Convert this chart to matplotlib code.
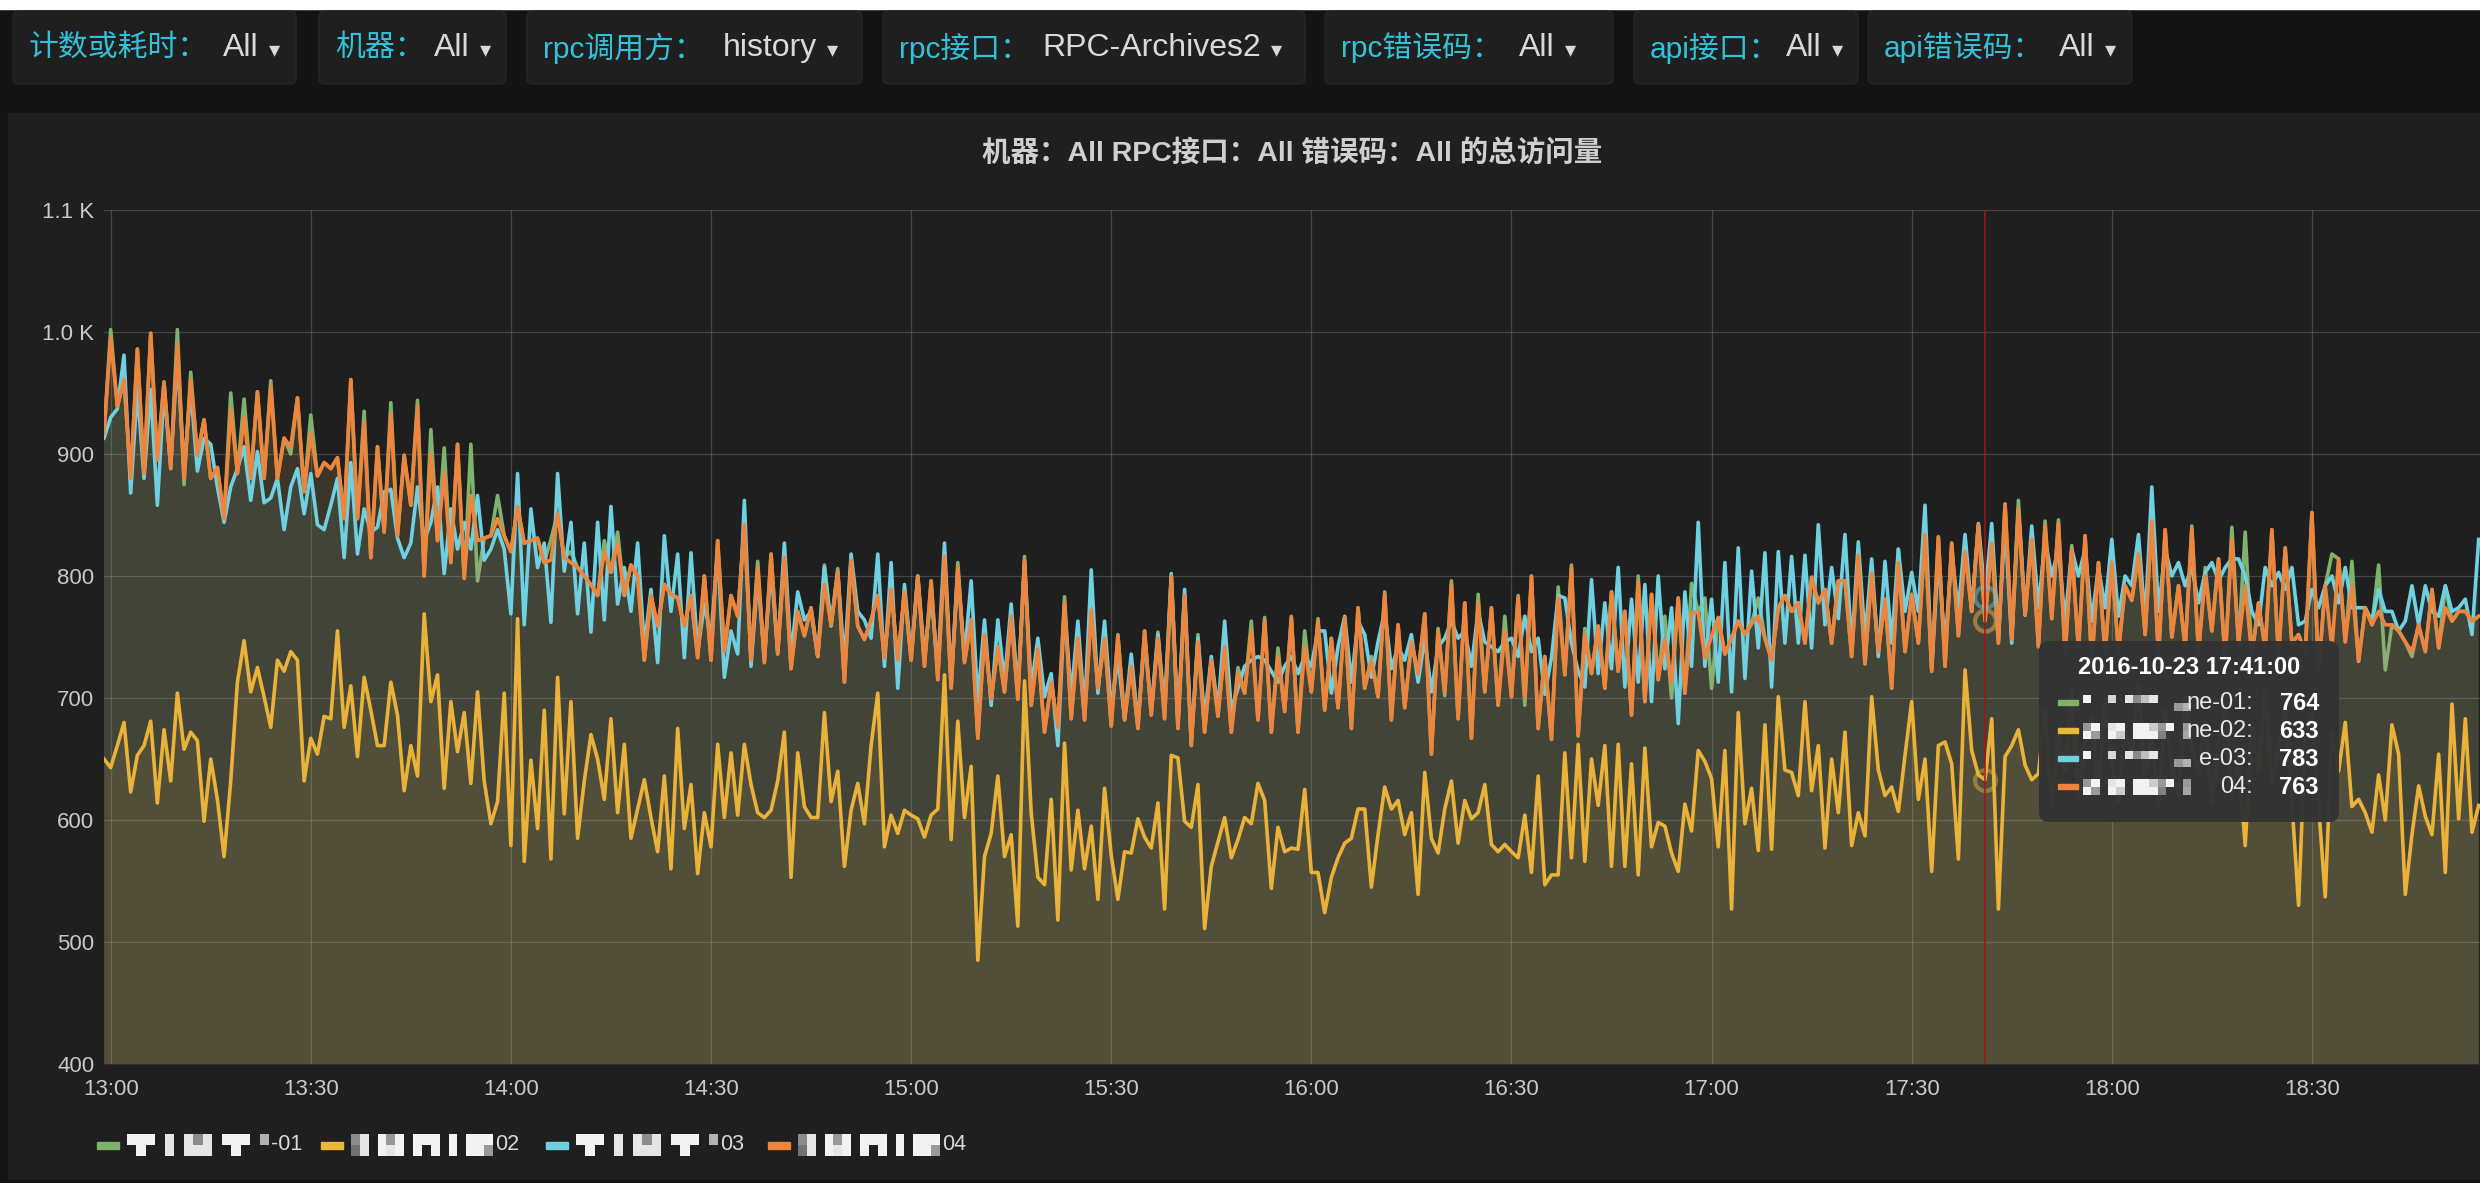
import matplotlib
matplotlib.use("Agg")
import matplotlib.pyplot as plt
import matplotlib.dates as mdates
from matplotlib.patches import FancyBboxPatch, Rectangle
from matplotlib.ticker import FuncFormatter
import numpy as np
import pandas as pd

FONTS = ["Liberation Sans", "Noto Sans CJK SC", "DejaVu Sans"]
plt.rcParams["font.family"] = FONTS

W, H = 2480, 1183

# one value per minute, starting 12:59
START = "2016-10-23 12:59"
HOVER = "2016-10-23 17:41:00"

host01 = [
    917, 1002, 939, 961, 880, 986, 884, 999, 895, 959, 888, 1002, 875, 967, 899, 928, 880, 889, 847, 950,
    884, 945, 880, 951, 880, 960, 880, 913, 900, 946, 869, 932, 882, 893, 888, 897, 847, 961, 847, 935,
    815, 906, 836, 942, 833, 899, 858, 944, 800, 920, 829, 905, 811, 908, 798, 908, 796, 831, 833, 866,
    833, 820, 857, 827, 829, 831, 811, 830, 851, 815, 820, 807,
    800, 793, 784, 829, 803, 836, 784, 809, 800, 731, 784, 759, 793, 785, 782, 759, 784, 733, 800, 731,
    829, 738, 784, 767, 842, 731, 812, 729, 818, 736, 815, 724, 771, 751, 774, 734, 809, 760, 806, 713,
    813, 759, 748, 764, 784, 733, 789, 731, 787, 731, 800, 726, 796, 715, 816, 708, 811, 729, 764, 667,
    752, 699, 742, 705, 767, 699, 816, 694, 740, 672, 713, 676,
    783, 683, 749, 682, 772, 708, 749, 677, 752, 682, 726, 675, 755, 686, 754, 683, 800, 675, 784, 661,
    752, 672, 731, 685, 742, 672, 725, 704, 763, 682, 766, 672, 741, 689, 767, 672, 755, 705, 765, 690,
    749, 692, 766, 675, 774, 708, 734, 701, 787, 682, 760, 692, 746, 720, 769, 654, 757, 702, 796, 683,
    778, 667, 785, 705, 774, 694, 767, 701, 784, 694, 800, 675,
    734, 666, 791, 719, 809, 669, 757, 720, 759, 708, 787, 722, 771, 686, 800, 697, 785, 715, 767, 700,
    782, 704, 794, 770, 782, 708, 766, 736, 749, 763, 752, 761, 782, 749, 731, 774, 784, 771, 778, 745,
    799, 778, 789, 745, 796, 796, 734, 817, 728, 802, 738, 781, 708, 822, 738, 785, 745, 834, 722, 832,
    726, 827, 751, 820, 771, 842, 764, 827, 745, 859, 748, 862,
    768, 830, 742, 845, 765, 846, 735, 825, 740, 833, 728, 811, 736, 811, 738, 792, 780, 818, 752, 845,
    733, 838, 750, 792, 741, 841, 737, 807, 755, 814, 731, 840, 744, 836, 734, 778, 740, 838, 733, 823,
    745, 752, 737, 852, 722, 792, 818, 814, 746, 812, 730, 774, 760, 809, 723, 760, 755, 746, 734, 760,
    738, 789, 741, 792, 763, 771, 771, 763, 767,
]

host02 = [
    650, 643, 661, 680, 623, 653, 661, 681, 614, 674, 632, 704, 658, 672, 665, 599, 650, 617, 570, 632,
    713, 747, 705, 725, 701, 676, 731, 722, 738, 731, 632, 667, 654, 685, 683, 755, 676, 710, 652, 717,
    690, 661, 661, 713, 686, 624, 661, 636, 769, 697, 719, 626, 697, 656, 688, 630, 705, 632, 597, 615,
    704, 579, 765, 566, 649, 593, 690, 568, 717, 605, 697, 585,
    632, 670, 650, 617, 683, 606, 662, 585, 609, 633, 602, 574, 636, 560, 675, 593, 629, 556, 606, 578,
    662, 602, 655, 604, 662, 629, 606, 602, 608, 632, 672, 553, 655, 611, 602, 602, 688, 615, 640, 562,
    608, 630, 597, 661, 704, 578, 604, 589, 608, 604, 601, 586, 604, 609, 719, 584, 681, 602, 644, 485,
    570, 589, 636, 570, 588, 513, 714, 606, 553, 547, 617, 518,
    663, 559, 608, 560, 595, 535, 626, 571, 535, 574, 573, 601, 586, 577, 614, 527, 653, 651, 599, 594,
    629, 511, 562, 582, 602, 569, 584, 602, 597, 630, 616, 544, 594, 574, 577, 576, 625, 557, 557, 524,
    553, 569, 581, 585, 609, 609, 545, 588, 627, 609, 616, 588, 606, 539, 639, 585, 573, 609, 632, 581,
    616, 601, 606, 629, 580, 574, 580, 574, 569, 604, 557, 636,
    547, 555, 555, 655, 569, 662, 566, 650, 612, 661, 562, 662, 562, 646, 555, 659, 578, 598, 595, 573,
    558, 613, 591, 657, 648, 634, 578, 657, 527, 688, 597, 626, 575, 678, 576, 701, 641, 639, 620, 697,
    624, 661, 577, 650, 606, 672, 579, 606, 587, 701, 641, 620, 627, 607, 653, 697, 617, 650, 558, 661,
    664, 646, 568, 723, 657, 637, 633, 683, 527, 652, 661, 674,
    645, 633, 638, 690, 612, 671, 640, 705, 618, 662, 684, 625, 700, 648, 615, 676, 655, 712, 630, 668,
    609, 690, 645, 620, 702, 660, 638, 681, 615, 665, 694, 622, 650, 579, 676, 640, 708, 628, 660, 690,
    615, 530, 668, 694, 612, 537, 672, 640, 680, 611, 617, 606, 590, 637, 600, 678, 654, 539, 588, 628,
    603, 588, 654, 557, 695, 601, 683, 590, 612,
]

host03 = [
    913, 930, 937, 981, 868, 953, 880, 953, 858, 953, 891, 979, 888, 953, 886, 913, 908, 873, 844, 873,
    888, 906, 862, 902, 860, 864, 880, 838, 873, 888, 851, 884, 842, 838, 858, 880, 815, 893, 818, 855,
    836, 840, 869, 871, 831, 815, 827, 873, 829, 844, 873, 802, 855, 822, 844, 822, 866, 813, 822, 838,
    822, 769, 884, 760, 855, 807, 827, 762, 884, 804, 844, 769,
    827, 754, 844, 764, 857, 777, 807, 771, 827, 742, 789, 729, 833, 771, 818, 733, 819, 738, 777, 749,
    822, 717, 755, 736, 862, 726, 800, 734, 807, 738, 827, 734, 787, 764, 771, 734, 807, 759, 803, 729,
    818, 771, 764, 749, 818, 726, 811, 708, 793, 734, 800, 734, 785, 724, 827, 713, 803, 734, 796, 697,
    764, 694, 764, 713, 777, 705, 811, 708, 749, 701, 720, 661,
    775, 701, 763, 689, 805, 704, 763, 690, 734, 683, 736, 679, 749, 690, 752, 692, 802, 679, 789, 664,
    749, 683, 734, 690, 763, 690, 708, 726, 731, 734, 731, 722, 713, 726, 734, 720, 734, 726, 755, 755,
    704, 742, 767, 713, 763, 752, 717, 746, 771, 724, 742, 731, 752, 713, 749, 705, 742, 749, 763, 749,
    755, 726, 771, 746, 742, 738, 746, 749, 734, 767, 738, 749,
    703, 733, 784, 782, 745, 722, 709, 797, 720, 778, 724, 807, 709, 781, 713, 793, 697, 800, 724, 774,
    679, 787, 726, 844, 726, 781, 713, 811, 705, 823, 716, 804, 741, 819, 709, 820, 745, 816, 745, 817,
    741, 842, 760, 807, 765, 834, 741, 828, 749, 814, 734, 812, 745, 822, 771, 803, 771, 858, 724, 816,
    741, 820, 771, 834, 771, 843, 783, 843, 749, 844, 745, 855,
    768, 841, 774, 830, 800, 822, 763, 822, 800, 822, 763, 807, 774, 830, 767, 800, 792, 834, 763, 873,
    771, 822, 800, 811, 792, 807, 778, 803, 811, 796, 807, 814, 814, 800, 771, 760, 807, 792, 803, 789,
    807, 760, 763, 789, 774, 792, 800, 778, 807, 774, 774, 774, 763, 789, 771, 771, 755, 763, 792, 760,
    792, 771, 767, 792, 771, 774, 781, 752, 830,
]

host04 = [
    917, 995, 939, 961, 880, 986, 884, 999, 895, 959, 888, 990, 880, 961, 899, 928, 880, 889, 847, 937,
    884, 930, 880, 951, 880, 955, 880, 913, 906, 946, 869, 917, 882, 893, 888, 897, 847, 961, 847, 926,
    815, 906, 836, 933, 833, 899, 858, 939, 800, 900, 829, 884, 811, 908, 798, 866, 829, 831, 833, 847,
    833, 820, 857, 827, 829, 831, 811, 813, 851, 815, 811, 807,
    800, 793, 784, 820, 803, 827, 784, 809, 800, 731, 784, 759, 793, 785, 782, 759, 784, 733, 800, 731,
    829, 738, 784, 767, 842, 731, 807, 729, 818, 736, 815, 724, 771, 751, 774, 734, 793, 760, 803, 713,
    813, 759, 748, 764, 784, 733, 789, 731, 787, 731, 800, 726, 796, 715, 816, 708, 807, 729, 764, 667,
    752, 699, 742, 705, 767, 699, 813, 694, 740, 672, 713, 676,
    778, 683, 749, 682, 772, 708, 749, 677, 751, 682, 726, 675, 755, 686, 749, 683, 800, 675, 784, 661,
    746, 672, 731, 685, 742, 672, 720, 704, 755, 682, 763, 672, 734, 689, 766, 672, 742, 705, 763, 690,
    749, 692, 766, 675, 774, 708, 731, 701, 785, 682, 760, 692, 746, 720, 769, 654, 755, 705, 793, 683,
    778, 667, 778, 705, 774, 694, 755, 701, 782, 700, 800, 675,
    734, 666, 782, 719, 807, 669, 752, 720, 759, 708, 787, 722, 771, 686, 795, 697, 785, 715, 748, 713,
    782, 704, 770, 770, 733, 751, 766, 736, 749, 763, 752, 761, 767, 749, 731, 774, 784, 771, 778, 745,
    799, 778, 789, 745, 796, 796, 734, 817, 728, 802, 738, 781, 708, 811, 738, 785, 745, 834, 722, 832,
    726, 827, 751, 820, 771, 842, 763, 827, 745, 859, 748, 855,
    768, 830, 742, 841, 765, 843, 735, 822, 740, 833, 728, 811, 736, 811, 738, 792, 780, 818, 752, 845,
    733, 838, 750, 792, 741, 838, 737, 800, 755, 814, 731, 830, 744, 792, 734, 778, 740, 838, 733, 823,
    745, 752, 737, 852, 722, 792, 741, 814, 746, 792, 730, 774, 760, 771, 760, 760, 755, 746, 738, 760,
    738, 789, 741, 774, 763, 771, 771, 763, 767,
]

SERIES_VALUES = [host01, host02, host03, host04]
SERIES_SUFFIX = ["-01", "02", "03", "04"]
TOOLTIP_SUFFIX = ["ne-01:", "ne-02:", "e-03:", "04:"]
COLORS = ["#7eb26d", "#eab839", "#6ed0e0", "#ef843c"]

FILTER_LABELS = ["计数或耗时：", "机器：", "rpc调用方：", "rpc接口：", "rpc错误码：", "api接口：", "api错误码："]
FILTER_VALUES = ["All", "All", "history", "RPC-Archives2", "All", "All", "All"]
PANEL_TITLE = "机器：All RPC接口：All 错误码：All 的总访问量"

# pixelated host names (grey levels, 0 = no block)
MASK_A = [[.95, .95, .95, 0, .9, 0, .9, .55, .9, 0, .95, .95, .95, 0, .7],
          [0, .95, 0, 0, .9, 0, .9, .9, .9, 0, 0, .95, 0, 0, 0]]
MASK_B = [[.55, .9, 0, .95, .6, .95, 0, .95, .95, .95, 0, .95, 0, .95, .95, .95],
          [.45, .9, 0, .95, .9, .95, 0, .95, 0, .95, 0, .95, 0, .95, .95, .6]]
TIP_A = [[.95, 0, 0, .85, 0, .9, .55, .75, .9, 0, 0, 0, 0],
         [0, 0, 0, 0, 0, 0, 0, 0, 0, 0, 0, .6, .7]]
TIP_B = [[.6, .95, 0, .9, .95, 0, .95, .95, .8, .6, .95, 0, .6],
         [.95, .6, 0, .95, .8, 0, .95, .95, .95, .5, 0, 0, .65]]
LEGEND_MASKS = [MASK_A, MASK_B, MASK_A, MASK_B]
TIP_MASKS = [TIP_A, TIP_B, TIP_A, TIP_B]


def draw_mask(ax, x, y, w, h, pattern, z):
    arr = np.array(pattern, dtype=float)
    rgba = np.zeros(arr.shape + (4,))
    rgba[..., :3] = arr[..., None]
    rgba[..., 3] = (arr > 0).astype(float)
    ax.imshow(rgba, extent=(x, x + w, y + h, y), interpolation="nearest", aspect="auto", zorder=z)
    ax.set_xlim(0, W)
    ax.set_ylim(H, 0)


times = pd.date_range(START, periods=len(host01), freq="min")
t_hover = pd.Timestamp(HOVER)
i_hover = times.get_loc(t_hover)

fig = plt.figure(figsize=(W / 100, H / 100), dpi=100, facecolor="#141414")

# background layer in pixel coordinates
bg = fig.add_axes([0, 0, 1, 1])
bg.set_zorder(0)
bg.axis("off")
bg.set_xlim(0, W)
bg.set_ylim(H, 0)
bg.add_patch(Rectangle((0, 0), W, 9, color="white"))
bg.add_patch(Rectangle((8, 113), W - 8, H - 117, color="#1f1f1f"))
BTN_X = [13, 319, 527, 883, 1325, 1634, 1868]
BTN_W = [283, 187, 335, 422, 288, 224, 264]
VAL_X = [223, 434, 723, 1042, 1519, 1786, 2059]
for bx, bw in zip(BTN_X, BTN_W):
    bg.add_patch(FancyBboxPatch((bx, 11), bw, 73, boxstyle="round,pad=0,rounding_size=6",
                                fc="#1f1f1f", ec="#262626", lw=1))

# chart
ax = fig.add_axes([104 / W, 1 - 1064 / H, 1 - 104 / W, (1064 - 210) / H])
ax.set_zorder(1)
ax.patch.set_alpha(0)
for k, (vals, col) in enumerate(zip(SERIES_VALUES, COLORS)):
    ax.fill_between(times, vals, 0, color=col, alpha=0.1, lw=0, zorder=1 + k)
    ax.plot(times, vals, color=col, lw=2.6, zorder=3 + k)
for vals, col in zip(SERIES_VALUES, COLORS):
    ax.plot([t_hover], [vals[i_hover]], "o", mfc="none", mec=col, mew=3, ms=15, alpha=0.45, zorder=9)
ax.axvline(t_hover, color="#a31515", lw=1.1, zorder=10)

ax.set_ylim(400, 1100)
ax.set_xlim(times[0], times[0] + pd.Timedelta(minutes=356.2))
ax.set_yticks(range(400, 1101, 100))
ax.yaxis.set_major_formatter(FuncFormatter(lambda v, _: f"{v / 1000:.1f} K" if v >= 1000 else f"{v:.0f}"))
ax.xaxis.set_major_locator(mdates.MinuteLocator(byminute=[0, 30]))
ax.xaxis.set_major_formatter(mdates.DateFormatter("%H:%M"))
ax.tick_params(length=0, labelsize=16, labelcolor="#c8c9ca")
ax.tick_params(axis="y", pad=7)
ax.tick_params(axis="x", pad=11)
ax.grid(True, color="white", alpha=0.17, lw=0.9)
for s in ax.spines.values():
    s.set_visible(False)

# foreground layer: filters, title, legend, tooltip
fg = fig.add_axes([0, 0, 1, 1])
fg.set_zorder(2)
fg.axis("off")
fg.set_xlim(0, W)
fg.set_ylim(H, 0)
renderer = fig.canvas.get_renderer()
inv = fg.transData.inverted()


def right_edge(txt):
    bb = txt.get_window_extent(renderer)
    return inv.transform((bb.x1, bb.y0))[0]


for bx, vx, lab, val in zip(BTN_X, VAL_X, FILTER_LABELS, FILTER_VALUES):
    fg.text(bx + 16, 48, lab, color="#33c1da", fontsize=21.5, va="center")
    tv = fg.text(vx, 48, val, color="#d8d9da", fontsize=23, va="center")
    fg.text(right_edge(tv) + 10, 50, "▾", color="#d8d9da", fontsize=16, va="center", family="DejaVu Sans")

fg.text(1292, 153, PANEL_TITLE, color="#cfcfcf", fontsize=20.5, fontweight="bold", ha="center", va="center")

LEG_X = [97, 321, 546, 768]
for lx, col, suf, mask in zip(LEG_X, COLORS, SERIES_SUFFIX, LEGEND_MASKS):
    fg.add_patch(Rectangle((lx, 1142), 22, 7, color=col))
    draw_mask(fg, lx + 30, 1134, 142, 22, mask, 3)
    fg.text(lx + 174, 1145, suf, color="#d8d9da", fontsize=15.5, va="center")

fg.add_patch(FancyBboxPatch((2039, 641), 300, 181, boxstyle="round,pad=0,rounding_size=10",
                            fc="#333333", ec="none", alpha=0.97, zorder=4))
fg.text(2189, 667, t_hover.strftime("%Y-%m-%d %H:%M:%S"), color="white", fontsize=17,
        fontweight="bold", ha="center", va="center", zorder=5)
ROW_Y = [703, 731, 759, 787]
for ry, col, suf, mask, vals in zip(ROW_Y, COLORS, TOOLTIP_SUFFIX, TIP_MASKS, SERIES_VALUES):
    fg.add_patch(Rectangle((2058, ry - 3), 20, 5, color=col, zorder=5))
    draw_mask(fg, 2083, ry - 8, 108, 16, mask, 5)
    fg.text(2253, ry, suf, color="#e8e8e8", fontsize=17, ha="right", va="center", zorder=6)
    fg.text(2319, ry, f"{vals[i_hover]}", color="white", fontsize=17, fontweight="bold",
            ha="right", va="center", zorder=6)

fig.savefig("out.png", dpi=100, facecolor=fig.get_facecolor())
